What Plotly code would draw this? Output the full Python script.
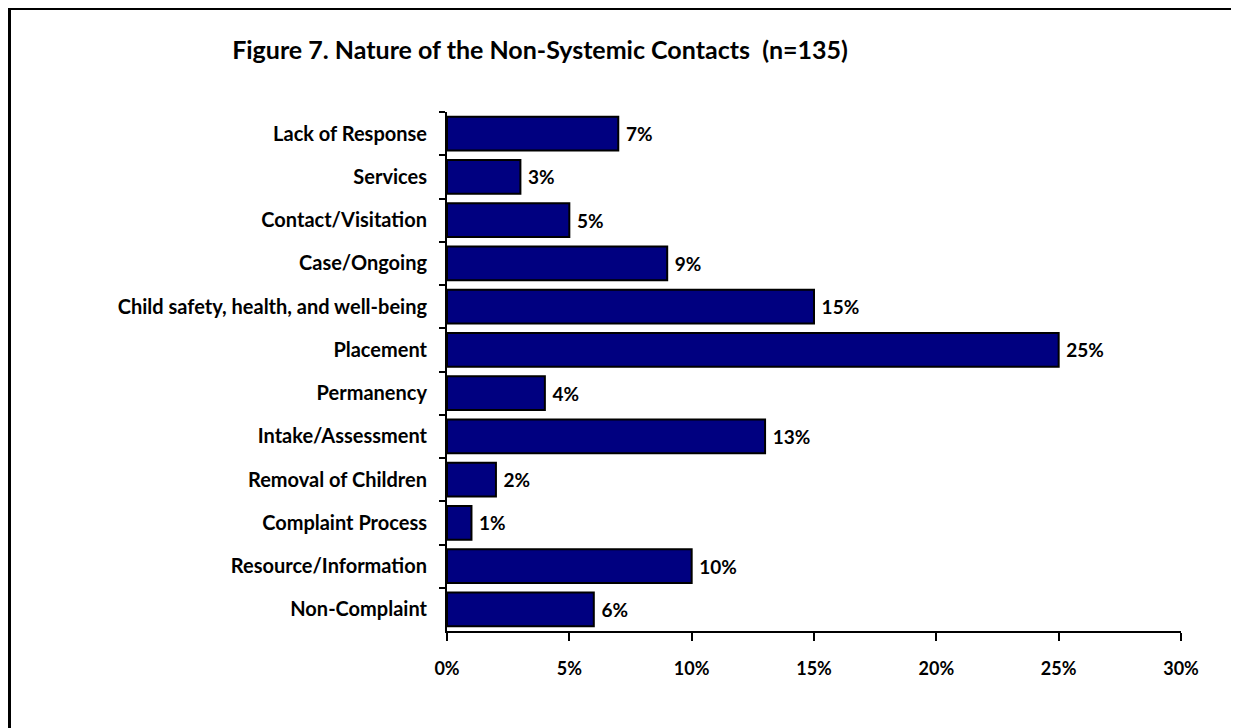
import plotly.graph_objects as go

categories = [
    "Lack of Response",
    "Services",
    "Contact/Visitation",
    "Case/Ongoing",
    "Child safety, health, and well-being",
    "Placement",
    "Permanency",
    "Intake/Assessment",
    "Removal of Children",
    "Complaint Process",
    "Resource/Information",
    "Non-Complaint",
]
values = [0.07, 0.03, 0.05, 0.09, 0.15, 0.25, 0.04, 0.13, 0.02, 0.01, 0.10, 0.06]
value_labels = ["7%", "3%", "5%", "9%", "15%", "25%", "4%", "13%", "2%", "1%", "10%", "6%"]
x_ticks = [0, 0.05, 0.10, 0.15, 0.20, 0.25, 0.30]
x_tick_labels = ["0%", "5%", "10%", "15%", "20%", "25%", "30%"]

OFF = 8  # page body margin offset
W, H = 1239 - OFF, 728 - OFF
L, R, T, B = 447 - OFF, 1181 - OFF, 112 - OFF, 631 - OFF
FONT = "Lato"

fig = go.Figure()
fig.add_trace(go.Bar(
    y=categories,
    x=values,
    orientation="h",
    marker=dict(color="#000080", line=dict(color="black", width=2)),
    text=value_labels,
    texttemplate="\u00a0%{text}",
    textposition="outside",
    textfont=dict(family=FONT, size=19, color="black", weight="bold"),
    cliponaxis=False,
    hoverinfo="skip",
))

pw, ph = R - L, B - T
def px2paper_x(px):
    return (px - OFF - L) / pw
def px2paper_y(py):
    return (B - (py - OFF)) / ph

border = dict(color="black", width=3)
fig.update_layout(
    width=W, height=H,
    margin=dict(l=L, r=W - R, t=T, b=H - B, pad=0),
    paper_bgcolor="white",
    plot_bgcolor="white",
    showlegend=False,
    bargap=0.22,
    title=dict(
        text="Figure 7. Nature of the Non-Systemic Contacts  (n=135)",
        x=(540 - OFF) / W, xanchor="center",
        y=1 - (50 - OFF) / H, yanchor="middle",
        font=dict(family=FONT, size=25, color="black", weight="bold"),
    ),
    xaxis=dict(
        range=[0, 0.30],
        tickvals=x_ticks,
        ticktext=x_tick_labels,
        showgrid=False,
        zeroline=False,
        showline=True,
        linecolor="black",
        linewidth=2,
        ticks="outside",
        ticklen=8,
        tickwidth=2,
        tickcolor="black",
        tickfont=dict(family=FONT, size=18, color="black", weight="bold"),
        ticklabelstandoff=12,
    ),
    yaxis=dict(
        categoryorder="array",
        categoryarray=categories,
        autorange="reversed",
        showgrid=False,
        zeroline=False,
        showline=True,
        linecolor="black",
        linewidth=2,
        ticks="outside",
        tickson="boundaries",
        ticklen=6,
        tickwidth=2,
        tickcolor="black",
        tickfont=dict(family=FONT, size=20, color="black", weight="bold"),
        ticklabelstandoff=14,
    ),
    shapes=[
        dict(type="line", xref="paper", yref="paper",
             x0=px2paper_x(9.5), x1=px2paper_x(1300),
             y0=px2paper_y(8.5), y1=px2paper_y(8.5),
             line=border, layer="above"),
        dict(type="line", xref="paper", yref="paper",
             x0=px2paper_x(9.5), x1=px2paper_x(9.5),
             y0=px2paper_y(7), y1=px2paper_y(800),
             line=border, layer="above"),
    ],
)

fig.write_html("out.html")
